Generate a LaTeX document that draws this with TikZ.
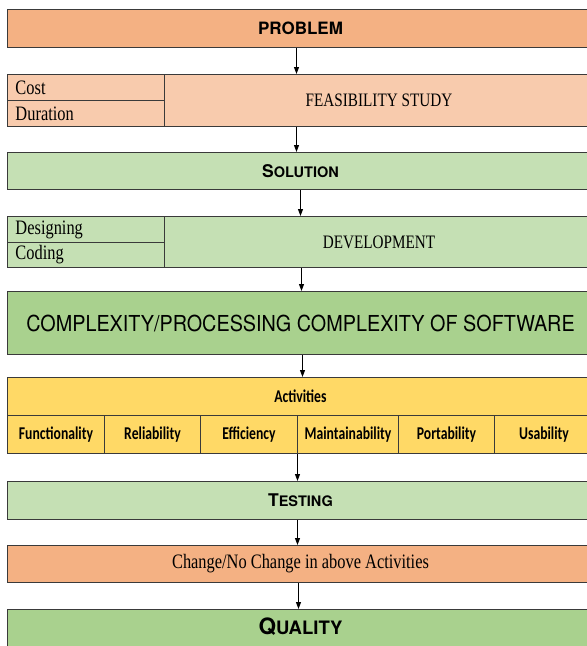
\documentclass[tikz,border=0pt]{standalone}
\usepackage{fontspec}
\setmainfont{Liberation Serif}[FakeStretch=0.8]
\newfontfamily\heros{TeX Gyre Heros}
\newfontfamily\heroc{TeX Gyre Heros}[FakeStretch=0.9]
\newfontfamily\carl{Carlito}[FakeStretch=0.76]
\usetikzlibrary{arrows.meta}
\definecolor{orangeA}{HTML}{F4B183}
\definecolor{orangeB}{HTML}{F8CBAD}
\definecolor{greenA}{HTML}{C5E0B4}
\definecolor{greenB}{HTML}{A9D18E}
\definecolor{goldA}{HTML}{FFD966}
\definecolor{edge}{HTML}{3A3A3A}
\newcommand{\capsA}[2]{{\fontsize{17.5}{17}\selectfont #1}{\fontsize{14.5}{14}\selectfont #2}}
\begin{document}
\begin{tikzpicture}[x=1pt,y=-1pt,
  box/.style={draw=edge, line width=1pt, inner sep=0pt, anchor=north west, minimum width=586pt},
  cell/.style={draw=edge, line width=1pt, inner sep=0pt, anchor=north west},
  lcell/.style={cell, minimum width=157pt, minimum height=26pt, text width=141pt, align=left},
  acell/.style={cell, minimum height=38pt, font=\carl\bfseries\fontsize{18}{18}\selectfont},
  serif/.style={font=\fontsize{19}{19}\selectfont},
  lserif/.style={font=\fontsize{20.5}{20}\selectfont},
  arr/.style={-{Triangle[length=7pt,width=5pt]}, line width=1.1pt, black}]
\useasboundingbox (0,0) rectangle (587,646);
\clip (0,0) rectangle (587,646);
% PROBLEM
\node[box, fill=orangeA, minimum height=38pt, font=\heros\bfseries\fontsize{17}{17}\selectfont] (problem) at (7,9) {PROBLEM};
% FEASIBILITY
\node[box, fill=orangeB, minimum height=52pt] (feasrow) at (7,74) {};
\node[cell, fill=orangeB, minimum width=429pt, minimum height=52pt, serif] (feas) at (164,74) {FEASIBILITY STUDY};
\node[lcell, fill=orangeB, lserif] (cost) at (7,74) {Cost};
\node[lcell, fill=orangeB, lserif] (dur) at (7,100) {Duration};
% SOLUTION
\node[box, fill=greenA, minimum height=37pt, font=\heros\bfseries] (solution) at (7,152) {\capsA{S}{OLUTION}};
% DEVELOPMENT
\node[box, fill=greenA, minimum height=51pt] (devrow) at (7,216) {};
\node[cell, fill=greenA, minimum width=429pt, minimum height=51pt, serif] (dev) at (164,216) {DEVELOPMENT};
\node[lcell, fill=greenA, lserif] (design) at (7,216) {Designing};
\node[lcell, fill=greenA, minimum height=25pt, lserif] (coding) at (7,242) {Coding};
% COMPLEXITY
\node[box, fill=greenB, minimum height=63pt, font=\heroc\fontsize{22}{22}\selectfont] (complex) at (7,291) {COMPLEXITY/PROCESSING COMPLEXITY OF SOFTWARE};
% ACTIVITIES
\node[box, fill=goldA, minimum height=76pt] (actrow) at (7,377) {};
\node[cell, fill=goldA, minimum width=586pt, minimum height=38pt, font=\carl\bfseries\fontsize{18}{18}\selectfont] (act) at (7,377) {Activities};
\node[acell, fill=goldA, minimum width=97pt] (func) at (7,415) {Functionality};
\node[acell, fill=goldA, minimum width=96pt] (rel) at (104,415) {Reliability};
\node[acell, fill=goldA, minimum width=97pt] (eff) at (200,415) {Efficiency};
\node[acell, fill=goldA, minimum width=101pt] (maint) at (297,415) {Maintainability};
\node[acell, fill=goldA, minimum width=96pt] (port) at (398,415) {Portability};
\node[acell, fill=goldA, minimum width=99pt] (usab) at (494,415) {Usability};
% TESTING
\node[box, fill=greenA, minimum height=38pt, font=\heros\bfseries] (testing) at (7,481) {\capsA{T}{ESTING}};
% CHANGE
\node[box, fill=orangeA, minimum height=37pt, lserif] (change) at (7,545) {Change/No Change in above Activities};
% QUALITY
\node[box, fill=greenB, minimum height=50pt, text depth=16pt, font=\heros\bfseries] (quality) at (7,609) {{\fontsize{22.5}{22}\selectfont Q}{\fontsize{18.5}{18}\selectfont UALITY}};
% arrows
\draw[arr] ([xshift=-4pt]problem.south) -- ([xshift=-4pt]problem.south |- feasrow.north);
\draw[arr] ([xshift=-4pt]feasrow.south) -- ([xshift=-4pt]feasrow.south |- solution.north);
\draw[arr] (solution.south) -- (solution.south |- devrow.north);
\draw[arr] ([xshift=1pt]devrow.south) -- ([xshift=1pt]devrow.south |- complex.north);
\draw[arr] ([xshift=2pt]complex.south) -- ([xshift=2pt]complex.south |- actrow.north);
\draw[arr] ([xshift=-3pt]actrow.south) -- ([xshift=-3pt]actrow.south |- testing.north);
\draw[arr] ([xshift=-3pt]testing.south) -- ([xshift=-3pt]testing.south |- change.north);
\draw[arr] ([xshift=-2pt]change.south) -- ([xshift=-2pt]change.south |- quality.north);
\end{tikzpicture}
\end{document}
